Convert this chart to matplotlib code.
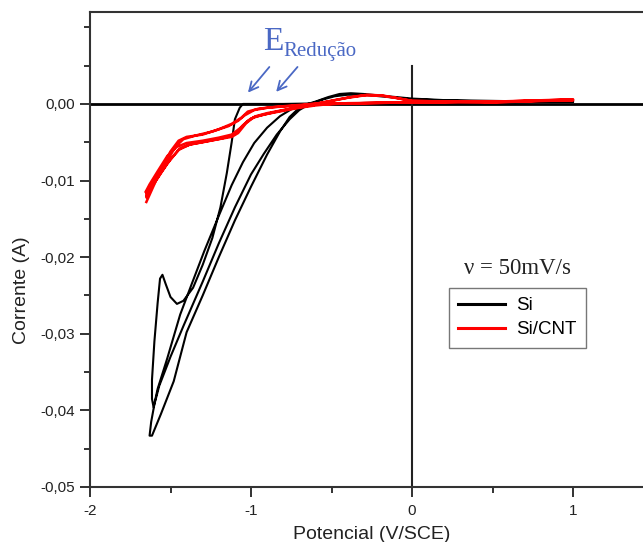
import matplotlib
matplotlib.use("Agg")
import matplotlib.pyplot as plt
from matplotlib.ticker import MultipleLocator, FuncFormatter
from matplotlib.lines import Line2D

plt.rcParams['font.family'] = ['Liberation Sans', 'DejaVu Sans']

# ---- Si: cyclic voltammogram (potential in V vs SCE, current in A) ----
si_x = [1.00, 0.50, 0.00, -0.50, -0.80, -1.00, -1.05,
        -1.07, -1.10, -1.12, -1.15, -1.19, -1.24, -1.30, -1.36, -1.42, -1.46,
        -1.50, -1.53, -1.55, -1.565, -1.58, -1.60, -1.615, -1.615, -1.605,
        -1.58, -1.52, -1.44, -1.37, -1.29, -1.20, -1.12, -1.05, -0.98, -0.90,
        -0.82, -0.75, -0.68, -0.60, -0.52, -0.45, -0.38, -0.30, -0.20, -0.10,
        0.00, 0.20, 0.50, 0.80, 1.00,
        0.50, 0.00, -0.40, -0.60, -0.66, -0.70, -0.76, -0.84, -0.92, -1.00,
        -1.10, -1.20, -1.30, -1.42, -1.50, -1.57, -1.60, -1.62, -1.63, -1.615,
        -1.56, -1.48, -1.40, -1.30, -1.20, -1.10, -1.00, -0.90, -0.82, -0.76,
        -0.70, -0.62, -0.55, -0.48, -0.40, -0.30, -0.20, -0.10, 0.00, 0.30,
        0.60, 1.00]
si_y = [0.0003, 0.0002, 0.0001, 0.0001, 0.0000, 0.0000, 0.0000,
        -0.0005, -0.0020, -0.0050, -0.0090, -0.0135, -0.0175, -0.0210, -0.0240, -0.0257, -0.0261,
        -0.0252, -0.0235, -0.0223, -0.0228, -0.0260, -0.0310, -0.0360, -0.0385, -0.0396,
        -0.0372, -0.0332, -0.0275, -0.0236, -0.0192, -0.0146, -0.0106, -0.0076, -0.0051, -0.0031,
        -0.0016, -0.0007, -0.0002, 0.0003, 0.0009, 0.0013, 0.0014, 0.0013, 0.0011, 0.0009,
        0.0007, 0.0005, 0.0004, 0.0003, 0.0003,
        0.0002, 0.0002, 0.0001, 0.0000, -0.0003, -0.0008, -0.0020, -0.0040, -0.0065, -0.0092,
        -0.0135, -0.0182, -0.0232, -0.0290, -0.0330, -0.0368, -0.0392, -0.0415, -0.0433, -0.0433,
        -0.0405, -0.0362, -0.0298, -0.0250, -0.0200, -0.0152, -0.0108, -0.0066, -0.0036, -0.0017,
        -0.0005, 0.0001, 0.0006, 0.0010, 0.0012, 0.0012, 0.0010, 0.0008, 0.0006, 0.0004,
        0.0003, 0.0003]

# ---- Si/CNT: three overlapping cycles ----
cnt_x = [1.00, 0.50, 0.00, -0.30, -0.50, -0.60, -0.70, -0.80, -0.90, -0.98, -1.03,
         -1.08, -1.12, -1.20, -1.30, -1.38, -1.44, -1.50, -1.56, -1.62, -1.65,
         -1.65, -1.60, -1.55, -1.50, -1.45, -1.40, -1.30, -1.20, -1.12, -1.06,
         -1.02, -0.95, -0.85, -0.70, -0.60, -0.50, -0.40, -0.30, -0.20, -0.10,
         0.00, 0.50, 1.00,
         0.50, 0.00, -0.30, -0.50, -0.60, -0.70, -0.80, -0.90, -0.97, -1.02,
         -1.07, -1.12, -1.20, -1.30, -1.40, -1.46, -1.52, -1.58, -1.63, -1.655,
         -1.64, -1.58, -1.52, -1.47, -1.42, -1.34, -1.24, -1.14, -1.08, -1.04,
         -0.98, -0.90, -0.80, -0.68, -0.58, -0.48, -0.38, -0.28, -0.18, -0.08,
         0.00, 0.50, 1.00,
         0.50, 0.00, -0.40, -0.60, -0.72, -0.84, -0.94, -1.00, -1.05, -1.10,
         -1.18, -1.28, -1.38, -1.45, -1.52, -1.59, -1.65]
cnt_y = [0.0005, 0.0003, 0.0002, 0.0001, 0.0000, -0.0002, -0.0005, -0.0009, -0.0013, -0.0017, -0.0025,
         -0.0038, -0.0043, -0.0046, -0.0050, -0.0053, -0.0058, -0.0072, -0.0090, -0.0110, -0.0122,
         -0.0116, -0.0099, -0.0082, -0.0062, -0.0048, -0.0043, -0.0040, -0.0033, -0.0026, -0.0018,
         -0.0010, -0.0006, -0.0004, -0.0002, 0.0000, 0.0004, 0.0008, 0.0011, 0.0011, 0.0008,
         0.0004, 0.0002, 0.0005,
         0.0003, 0.0002, 0.0001, 0.0000, -0.0001, -0.0004, -0.0008, -0.0012, -0.0016, -0.0022,
         -0.0032, -0.0040, -0.0044, -0.0048, -0.0051, -0.0056, -0.0068, -0.0088, -0.0105, -0.0115,
         -0.0112, -0.0094, -0.0074, -0.0056, -0.0046, -0.0041, -0.0036, -0.0029, -0.0022, -0.0015,
         -0.0008, -0.0005, -0.0003, -0.0001, 0.0001, 0.0005, 0.0009, 0.0012, 0.0011, 0.0007,
         0.0004, 0.0002, 0.0006,
         0.0003, 0.0002, 0.0001, -0.0001, -0.0005, -0.0010, -0.0015, -0.0019, -0.0028, -0.0040,
         -0.0045, -0.0049, -0.0053, -0.0060, -0.0078, -0.0100, -0.0128]

x_ticks = [-2, -1, 0, 1]
y_ticks = [-0.05, -0.04, -0.03, -0.02, -0.01, 0.00]
series_labels = ["Si", "Si/CNT"]
rate_label = "ν = 50mV/s"

W, H = 643, 542
fig = plt.figure(figsize=(W / 100, H / 100), dpi=100)
# axes runs past the right edge of the canvas, so the right frame is cut off
ax = fig.add_axes([90 / W, 1 - 487 / H, 563.5 / W, 475 / H])
ax.set_xlim(-2, 1.5)
ax.set_ylim(-0.05, 0.012)

# reference axes through the origin
ax.axhline(0, color='black', lw=2.0, zorder=1)
ax.plot([0, 0], [-0.05, 0.005], color='#222222', lw=1.5, zorder=1)

ax.plot(si_x, si_y, color='black', lw=1.5, zorder=3, solid_joinstyle='round')
ax.plot(cnt_x, cnt_y, color='#ff0000', lw=1.8, zorder=4, solid_joinstyle='round')

ax.set_xticks(x_ticks)
ax.set_yticks(y_ticks)
ax.xaxis.set_minor_locator(MultipleLocator(0.5))
ax.yaxis.set_minor_locator(MultipleLocator(0.005))
ax.yaxis.set_major_formatter(FuncFormatter(lambda v, p: f"{v:.2f}".replace('.', ',').replace('-0,00', '0,00')))
ax.xaxis.set_major_formatter(FuncFormatter(lambda v, p: f"{v:.0f}"))
ax.tick_params(axis='both', which='major', direction='out', length=7, width=1.3,
               labelsize=11, colors='#222222', labelcolor='#222222')
ax.tick_params(axis='both', which='minor', direction='out', length=4, width=1.3, colors='#222222')
ax.tick_params(axis='x', pad=5)
for s in ax.spines.values():
    s.set_linewidth(1.5)
    s.set_color('#333333')

ax.set_xlabel("Potencial (V/SCE)", fontsize=14, color='#222222', labelpad=6)
ax.set_ylabel("Corrente (A)", fontsize=14, color='#222222')
ax.yaxis.set_label_coords(-0.107, 0.415)

# reduction onset annotation
blue = '#4a68c4'
ax.text(-0.925, 0.0071, "E", fontsize=24, family='Liberation Serif', color=blue, va='baseline')
ax.text(-0.80, 0.0063, "Redução", fontsize=15, family='Liberation Serif', color=blue, va='baseline')
for (x0, y0, x1, y1) in [(-0.875, 0.0051, -1.03, 0.0012), (-0.70, 0.0051, -0.855, 0.0013)]:
    ax.annotate("", xy=(x1, y1), xytext=(x0, y0),
                arrowprops=dict(arrowstyle='->', color=blue, lw=1.3, mutation_scale=16))

fig.text(518 / W, 1 - 268 / H, rate_label, fontsize=16.5, family='Liberation Serif',
         ha='center', va='center', color='#222222')

handles = [Line2D([], [], color='black', lw=2.2), Line2D([], [], color='#ff0000', lw=2.2)]
leg = fig.legend(handles, series_labels, loc='upper left',
                 bbox_to_anchor=(449 / W, 1 - 288 / H), fontsize=13.5,
                 frameon=True, fancybox=False, handlelength=2.5, borderpad=0.5,
                 labelspacing=0.35, handletextpad=0.6, borderaxespad=0)
leg.get_frame().set_edgecolor('#555555')
leg.get_frame().set_linewidth(1.0)

fig.savefig("out.png", dpi=100)
